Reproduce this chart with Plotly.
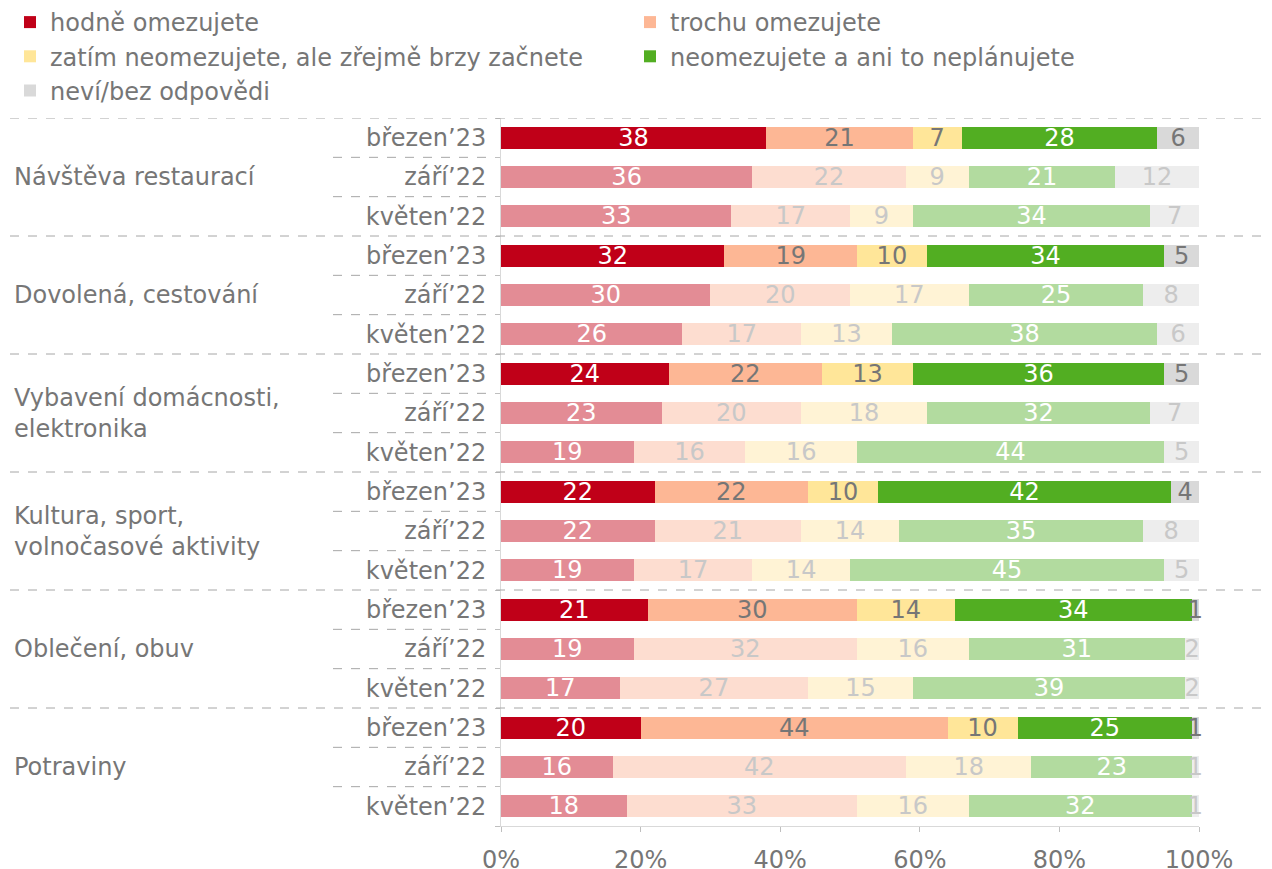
import plotly.graph_objects as go

categories = ["Návštěva restaurací", "Dovolená, cestování", "Vybavení domácnosti,<br>elektronika",
              "Kultura, sport,<br>volnočasové aktivity", "Oblečení, obuv", "Potraviny"]
periods = ["březen’23", "září’22", "květen’22"]
tick_labels = ["0%", "20%", "40%", "60%", "80%", "100%"]

series_names = ["hodně omezujete", "trochu omezujete", "zatím neomezujete, ale zřejmě brzy začnete",
                "neomezujete a ani to neplánujete", "neví/bez odpovědi"]

hodne = [38, 36, 33, 32, 30, 26, 24, 23, 19, 22, 22, 19, 21, 19, 17, 20, 16, 18]
trochu = [21, 22, 17, 19, 20, 17, 22, 20, 16, 22, 21, 17, 30, 32, 27, 44, 42, 33]
zatim = [7, 9, 9, 10, 17, 13, 13, 18, 16, 10, 14, 14, 14, 16, 15, 10, 18, 16]
neomez = [28, 21, 34, 34, 25, 38, 36, 32, 44, 42, 35, 45, 34, 31, 39, 25, 23, 32]
nevi = [6, 12, 7, 5, 8, 6, 5, 7, 5, 4, 8, 5, 1, 2, 2, 1, 1, 1]

values = [hodne, trochu, zatim, neomez, nevi]
dark_colors = ["#C00018", "#FDB795", "#FFE699", "#52AE22", "#D9D9D9"]
light_colors = ["#E38C95", "#FDDDD0", "#FFF3D5", "#B2DB9F", "#EDEDED"]
dark_text = ["#FFFFFF", "#767676", "#767676", "#FFFFFF", "#767676"]
light_text = ["#FFFFFF", "#C8C8C8", "#C8C8C8", "#FFFFFF", "#C8C8C8"]
legend_of = ["legend", "legend2", "legend", "legend2", "legend"]

FONT = "DejaVu Sans, Verdana, sans-serif"
GRAY = "#767676"
FS = 24

OFF = 8  # page body margin
W, H = 1272 - OFF, 869 - OFF
ML, MT = 501 - OFF, 118 - OFF
PW, PH = 698, 708
MR = W - ML - PW
MB = H - MT - PH

n_rows = len(categories) * len(periods)
ypos = list(range(n_rows))
ylabels = [periods[i % len(periods)] for i in ypos]

fig = go.Figure()
for k, name in enumerate(series_names):
    cols = [dark_colors[k] if i % 3 == 0 else light_colors[k] for i in ypos]
    tcols = [dark_text[k] if i % 3 == 0 else light_text[k] for i in ypos]
    fig.add_trace(go.Bar(
        name=name, orientation="h", x=values[k], y=ypos, legend=legend_of[k],
        marker=dict(color=cols, line=dict(width=0)),
        text=[str(v) for v in values[k]], textposition="inside", textangle=0,
        insidetextanchor="middle", constraintext="none",
        textfont=dict(family=FONT, size=FS, color=tcols),
        cliponaxis=False, hoverinfo="x+name",
    ))


def px_to_paper(px):
    return (px - OFF - ML) / float(PW)


def py_to_paper(py):
    return 1 - (py - OFF - MT) / float(PH)


shapes = []
for g in range(len(categories)):
    yb = g * 3 - 0.5
    shapes.append(dict(type="line", xref="paper", yref="y", x0=px_to_paper(10), x1=px_to_paper(1270),
                       y0=yb, y1=yb, line=dict(color="#A6A6A6", width=1, dash="dash")))
    for j in (1, 2):
        yy = g * 3 + j - 0.5
        shapes.append(dict(type="line", xref="paper", yref="y", x0=px_to_paper(333), x1=px_to_paper(490),
                           y0=yy, y1=yy, line=dict(color="#A6A6A6", width=1, dash="dash")))

annotations = []
for g, cat in enumerate(categories):
    annotations.append(dict(xref="paper", yref="y", x=px_to_paper(12), y=g * 3 + 1, text=cat,
                            xanchor="left", yanchor="middle", align="left", showarrow=False,
                            font=dict(family=FONT, size=FS, color=GRAY)))

legend_common = dict(orientation="v", xref="paper", yref="paper", xanchor="left", yanchor="top",
                     traceorder="normal", bgcolor="rgba(0,0,0,0)", itemwidth=30, tracegroupgap=0,
                     font=dict(family=FONT, size=FS, color=GRAY))

fig.update_layout(
    width=W, height=H,
    margin=dict(l=ML, r=MR, t=MT, b=MB, autoexpand=False),
    barmode="stack", bargap=0.44,
    plot_bgcolor="white", paper_bgcolor="white",
    font=dict(family=FONT, size=FS, color=GRAY),
    shapes=shapes, annotations=annotations,
    showlegend=True,
    legend=dict(x=px_to_paper(10), y=py_to_paper(0), **legend_common),
    legend2=dict(x=px_to_paper(630), y=py_to_paper(0), **legend_common),
    xaxis=dict(range=[0, 100], tickvals=[0, 20, 40, 60, 80, 100], ticktext=tick_labels,
               showgrid=False, zeroline=False, showline=True, linecolor="#D9D9D9", linewidth=1,
               ticks="outside", ticklen=5, tickcolor="#BFBFBF", ticklabelstandoff=7,
               automargin=False,
               tickfont=dict(family=FONT, size=FS, color=GRAY), fixedrange=True),
    yaxis=dict(range=[n_rows - 0.5, -0.5], tickvals=ypos, ticktext=ylabels,
               showgrid=False, zeroline=False, showline=True, linecolor="#D9D9D9", linewidth=1,
               ticks="", ticklabelstandoff=9, automargin=False,
               minor=dict(tickvals=[i - 0.5 for i in range(n_rows + 1)], ticks="outside", ticklen=5,
                          tickcolor="#BFBFBF"),
               tickfont=dict(family=FONT, size=FS, color=GRAY), fixedrange=True),
)

fig.write_html("out.html")
